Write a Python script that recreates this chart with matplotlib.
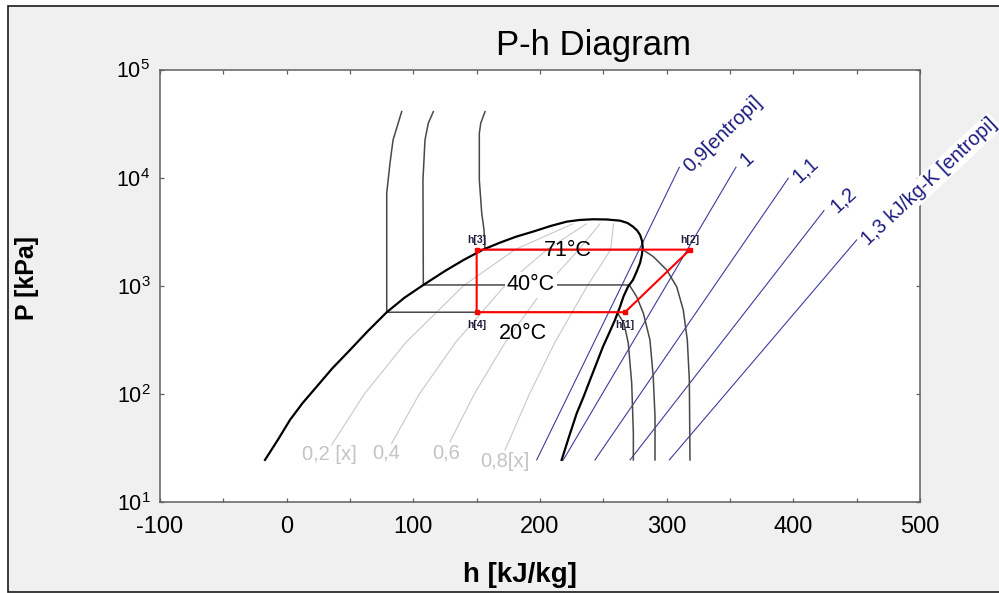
import matplotlib
matplotlib.use("Agg")
import matplotlib.pyplot as plt
from matplotlib.ticker import FixedLocator, LogFormatterSciNotation, MultipleLocator, NullFormatter
from matplotlib.patches import Rectangle

plt.rcParams['font.family'] = ['Liberation Sans', 'DejaVu Sans']
plt.rcParams['mathtext.fontset'] = 'custom'
plt.rcParams['mathtext.rm'] = 'Liberation Sans'
plt.rcParams['mathtext.it'] = 'Liberation Sans:italic'
plt.rcParams['mathtext.bf'] = 'Liberation Sans:bold'
plt.rcParams['axes.unicode_minus'] = False

# ---- saturation dome (liquid branch, then vapour branch) ----
dome_h = [-17.1, -7.0, 2.6, 12.5, 23.7, 36.0, 50.0, 64.0, 79.0, 93.0, 107.9, 125.0, 140.0,
          155.0, 168.4, 181.0, 194.5, 208.0, 221.1, 231.5, 241.8, 253.0,
          263.2, 269.0, 273.4, 276.8, 279.0, 280.6, 281.1, 280.4, 279.0, 276.5, 273.4, 269.5,
          266.0, 263.2, 259.2, 254.5, 249.7, 244.8, 239.5, 234.4, 229.0, 223.0, 217.1]
dome_P = [24.5, 37.5, 57.4, 82.0, 116.6, 172.0, 254.7, 380.0, 569, 775.0, 1017, 1370, 1740,
          2158, 2504, 2840, 3166, 3560, 3917, 4060, 4121, 4100,
          3998, 3810, 3521, 3230, 2951, 2590, 2240, 1920, 1626, 1370, 1132, 981,
          800, 641, 483, 363, 273, 194, 134.5, 94.0, 66.2, 40.5, 24.5]

# ---- isotherms ----
iso20_h = [90.8, 84.0, 81.6, 79.0, 79.0, 260.8, 266.3, 269.7, 272.4, 273.7, 273.7]
iso20_P = [40790, 22320, 13680, 7211, 569, 569, 449.8, 294, 125.4, 43.2, 24.5]
iso40_h = [115.8, 111.8, 109.2, 107.6, 107.9, 270.5, 276.3, 281.6, 286.8, 289.4, 290.8, 290.8]
iso40_P = [40790, 31850, 22320, 9522, 1017, 1017, 792.5, 556.6, 315.1, 144.2, 61.5, 24.5]
iso71_h = [156.6, 153.2, 152.1, 152.1, 154.0, 155.8, 156.6, 281.1, 289.5, 300.0, 307.9,
           313.1, 316.3, 317.9, 318.4]
iso71_P = [40790, 31850, 25750, 9522, 4686, 3281, 2158, 2158, 1858, 1400, 981,
           597, 315, 134.5, 24.5]

# ---- lines of constant quality ----
x_P = [100, 300, 1000, 2158, 3733]
x02_h = [35.5, 61.4, 94.2, 139.6, 180.2, 225.8]
x04_h = [82.9, 104.8, 133.4, 172.2, 205.4, 236.5]
x06_h = [128.9, 148.2, 172.6, 204.8, 230.6, 247.3]
x08_h = [172.4, 191.7, 211.8, 237.4, 255.8, 258.0]
x_low_P = [33.7, 34.9, 36.1, 30.3]

# ---- lines of constant entropy ----
s09_h = [197.4, 278.2, 310.0]
s09_P = [24.5, 2143, 12480]
s10_h = [218.4, 292.9, 354.7]
s10_P = [24.5, 739, 12480]
s11_h = [243.4, 319.2, 396.0]
s11_P = [24.5, 482.7, 9862]
s12_h = [271.1, 347.9, 424.2]
s12_P = [24.5, 350.7, 4955]
s13_h = [302.1, 376.1, 450.0]
s13_P = [24.5, 254.7, 2653]

# ---- refrigeration cycle states 1..4 ----
cyc_h = [267.1, 318.4, 150.0, 150.0]
cyc_P = [569, 2158, 2158, 569]
cyc_names = ["h[1]", "h[2]", "h[3]", "h[4]"]

fig = plt.figure(figsize=(9.99, 5.93), dpi=100, facecolor='white')
fig.patches.append(Rectangle((8 / 999, 1.2 / 593), 1.0, (586 - 0.2) / 593,
                             transform=fig.transFigure, facecolor='#f0f0f0',
                             edgecolor='#1a1a1a', linewidth=1.2, zorder=-5))

ax = fig.add_axes([160 / 999, 91 / 593, 760 / 999, 432.5 / 593])
ax.set_zorder(2)
ax.set_facecolor('white')
ax.set_xlim(-100, 500)
ax.set_yscale('log')
ax.set_ylim(10, 1e5)

qcol = '#c8c8c8'
for hs, plo in zip([x02_h, x04_h, x06_h, x08_h], x_low_P):
    ax.plot(hs, [plo] + x_P, color=qcol, lw=0.8, zorder=1)

scol = '#3c3ca0'
for hs, ps in [(s09_h, s09_P), (s10_h, s10_P), (s11_h, s11_P), (s12_h, s12_P), (s13_h, s13_P)]:
    ax.plot(hs, ps, color=scol, lw=0.8, zorder=2)

icol = '#484848'
for hs, ps in [(iso20_h, iso20_P), (iso40_h, iso40_P), (iso71_h, iso71_P)]:
    ax.plot(hs, ps, color=icol, lw=1.1, zorder=2)

ax.plot(dome_h, dome_P, color='black', lw=1.6, zorder=3, solid_joinstyle='round')

ax.plot(cyc_h + cyc_h[:1], cyc_P + cyc_P[:1], color='#ff0000', lw=1.5, zorder=4)
ax.plot(cyc_h, cyc_P, 's', color='#ff0000', ms=3.5, zorder=5)
for name, h, p in zip(cyc_names, cyc_h, cyc_P):
    above = name in ("h[2]", "h[3]")
    ax.annotate(name, (h, p), xytext=(0, 7 if above else -9.5), textcoords='offset points',
                ha='center', va='center', fontsize=7.5, fontweight='bold',
                color='#1e1e3c', zorder=6)

# isotherm labels
ax.text(222.3, 2121, "71°C", fontsize=15.5, ha='center', va='center', zorder=6)
ax.text(192.9, 1017, "40°C", fontsize=15.5, ha='center', va='center', zorder=6,
        bbox=dict(facecolor='white', edgecolor='none', pad=1.5))
ax.text(186.2, 358, "20°C", fontsize=15.5, ha='center', va='center', zorder=6)

# quality labels
qlab = [("0,2 [x]", 33.7, 27.3), ("0,4", 78.2, 28.4), ("0,6", 125.6, 28.4), ("0,8[x]", 172.4, 23.6)]
for txt, h, p in qlab:
    ax.text(h, p, txt, fontsize=14.5, color='#c4c4c4', ha='center', va='center', zorder=6)

# entropy labels
slab = [("0,9[entropi]", 314.5, 12400, 44),
        ("1", 359.0, 14000, 42),
        ("1,1", 400.0, 10000, 42),
        ("1,2", 430.0, 5250, 42)]
for txt, h, p, rot in slab:
    ax.text(h, p, txt, fontsize=14.5, color='#1c1c80', rotation=rot, rotation_mode='anchor',
            ha='left', va='center_baseline', zorder=6)
ax.text(455.0, 2600, "1,3 kJ/kg-K [entropi]", fontsize=14.3, color='#1c1c80', rotation=43,
        rotation_mode='anchor', ha='left', va='center_baseline', zorder=7, clip_on=False,
        bbox=dict(facecolor='white', edgecolor='none', pad=1))

# axes styling
for sp in ax.spines.values():
    sp.set_color('#606060')
    sp.set_linewidth(1.1)
ax.xaxis.set_major_locator(MultipleLocator(100))
ax.xaxis.set_minor_locator(MultipleLocator(50))
ax.yaxis.set_major_locator(FixedLocator([10, 100, 1000, 1e4, 1e5]))
ax.yaxis.set_major_formatter(LogFormatterSciNotation())
ax.yaxis.set_minor_locator(FixedLocator([]))
ax.yaxis.set_minor_formatter(NullFormatter())
ax.tick_params(which='both', direction='in', length=3, width=0.9, color='#606060',
               top=True, right=True)
ax.tick_params(axis='x', labelsize=17, pad=10)
ax.tick_params(axis='y', labelsize=15.5, pad=7)

fig.text(594 / 999, 1 - 55 / 593, "P-h Diagram", fontsize=25, ha='center', va='baseline')
fig.text(520 / 999, 1 - 582 / 593, "h [kJ/kg]", fontsize=20, fontweight='bold',
         ha='center', va='baseline')
fig.text(27 / 999, 1 - 278 / 593, "P [kPa]", fontsize=18, fontweight='bold',
         rotation=90, ha='center', va='center')

fig.savefig("out.png", dpi=100, facecolor=fig.get_facecolor())
